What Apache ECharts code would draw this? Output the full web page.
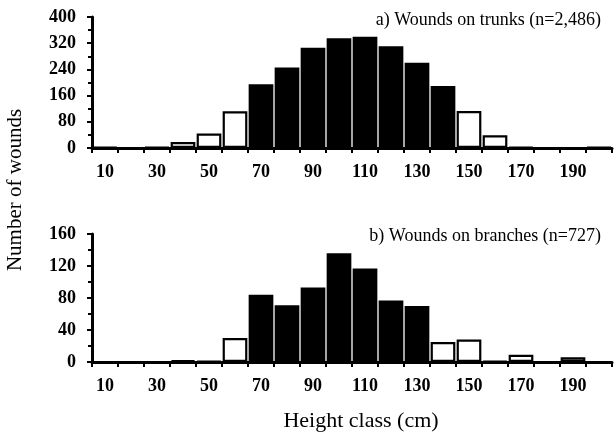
<!DOCTYPE html>
<html>
<head>
<meta charset="utf-8">
<script src="https://cdn.jsdelivr.net/npm/echarts@6/dist/echarts.min.js"></script>
<style>
html,body{margin:0;padding:0;background:#fff;}
#main{width:614px;height:437px;}
</style>
</head>
<body>
<div id="main"></div>
<script>
const categories = [10,20,30,40,50,60,70,80,90,100,110,120,130,140,150,160,170,180,190,200];
const trunkWounds = [3,0,2,18,44,112,195,246,306,335,340,311,260,189,113,39,3,0,0,2];
const branchWounds = [0,0,0,2,1,30,84,71,93,136,117,77,70,25,28,1,9,0,6,0];
const trunkSolidRange = [70, 140];
const branchSolidRange = [70, 130];
const titleA = 'a) Wounds on trunks (n=2,486)';
const titleB = 'b) Wounds on branches (n=727)';
const yName = 'Number of wounds';
const xName = 'Height class (cm)';

const FONT = '"Liberation Serif", "Times New Roman", serif';

function styled(values, range){
  return values.map((v,i)=>{
    const solid = categories[i] >= range[0] && categories[i] <= range[1];
    return {
      value: v,
      itemStyle: solid
        ? {color:'#000', borderWidth:0}
        : {color:'#fff', borderColor:'#000', borderWidth:2.2}
    };
  });
}

const xAxisBase = {
  type:'category',
  data: categories.map(String),
  boundaryGap:true,
  axisLine:{lineStyle:{color:'#000', width:3}},
  axisTick:{show:true, interval:0, length:5, lineStyle:{color:'#000', width:2}},
  axisLabel:{interval:1, color:'#000', fontFamily:FONT, fontSize:18, fontWeight:'bold', margin:15},
  splitLine:{show:false}
};
const yAxisBase = {
  type:'value',
  min:0,
  axisLine:{show:true, lineStyle:{color:'#000', width:3}},
  axisTick:{show:true, length:5, lineStyle:{color:'#000', width:2}},
  minorTick:{show:true, splitNumber:2, length:4, lineStyle:{color:'#000', width:2}},
  axisLabel:{color:'#000', fontFamily:FONT, fontSize:18, fontWeight:'bold', margin:16},
  splitLine:{show:false}
};

const chart = echarts.init(document.getElementById('main'), null, {renderer:'canvas'});
chart.setOption({
  backgroundColor:'#fff',
  animation:false,
  title:[
    {text:titleA, right:8, top:6, textStyle:{fontFamily:FONT, fontSize:18, fontWeight:'normal', color:'#000'}},
    {text:titleB, right:8, top:222, textStyle:{fontFamily:FONT, fontSize:18, fontWeight:'normal', color:'#000'}}
  ],
  grid:[
    {left:92, right:2, top:17, height:131},
    {left:92, right:2, top:234, height:128}
  ],
  xAxis:[
    Object.assign({gridIndex:0}, xAxisBase),
    Object.assign({gridIndex:1}, xAxisBase)
  ],
  yAxis:[
    Object.assign({gridIndex:0, max:400, interval:80}, yAxisBase),
    Object.assign({gridIndex:1, max:160, interval:40}, yAxisBase)
  ],
  series:[
    {type:'bar', xAxisIndex:0, yAxisIndex:0, data:styled(trunkWounds, trunkSolidRange), barCategoryGap:'5%'},
    {type:'bar', xAxisIndex:1, yAxisIndex:1, data:styled(branchWounds, branchSolidRange), barCategoryGap:'5%'}
  ],
  graphic:[
    {type:'text', x:15, y:190, rotation:Math.PI/2, style:{text:yName, fontFamily:FONT, fontSize:21, fill:'#000', align:'center', verticalAlign:'middle'}},
    {type:'text', x:361, y:421, style:{text:xName, fontFamily:FONT, fontSize:22, fill:'#000', align:'center', verticalAlign:'middle'}}
  ]
});
</script>
</body>
</html>
